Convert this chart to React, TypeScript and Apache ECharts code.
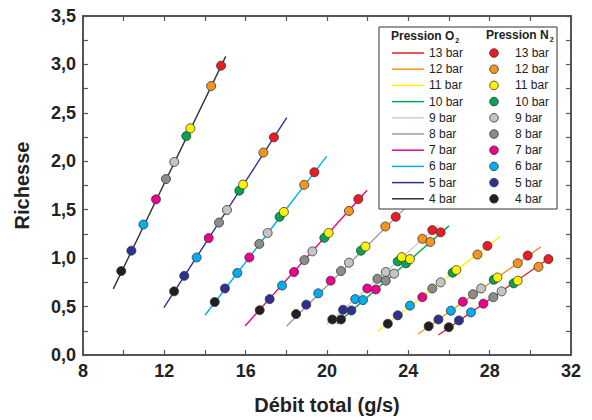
import React, { useEffect, useRef } from "react";
import * as echarts from "echarts";

const FONT = "'Liberation Sans', Arial, Helvetica, sans-serif";

// Pressures (bar), N2 / O2 order: 4..13
const pressures = [4, 5, 6, 7, 8, 9, 10, 11, 12, 13];
const pressureLabels = pressures.map((p) => `${p} bar`);
const lineColors = ["#333333", "#2e3192", "#00aeef", "#ec008c", "#9a9a9a", "#cfcfcf", "#00a651", "#fff200", "#f7941d", "#ed1c24"];
const dotColors = ["#231f20", "#2e3192", "#00aeef", "#ec008c", "#8c8c8c", "#c4c4c4", "#00a651", "#fff200", "#f7941d", "#ed1c24"];

// Débit total (x) for each O2 pressure, one value per N2 pressure (4..13 bar)
const xO2_4 = [9.88, 10.38, 10.97, 11.59, 12.08, 12.49, 13.08, 13.28, 14.3, 14.79];
const xO2_5 = [12.48, 12.98, 13.59, 14.18, 14.69, 15.08, 15.69, 15.87, 16.87, 17.39];
const xO2_6 = [14.48, 14.98, 15.59, 16.18, 16.67, 17.08, 17.67, 17.88, 18.88, 19.38];
const xO2_7 = [16.69, 17.18, 17.79, 18.38, 18.89, 19.28, 19.87, 20.08, 21.08, 21.54];
const xO2_8 = [18.48, 18.98, 19.57, 20.18, 20.69, 21.08, 21.67, 21.89, 22.87, 23.38];
const xO2_9 = [20.26, 20.79, 21.39, 21.98, 22.48, 22.89, 23.48, 23.68, 24.69, 25.18];
const xO2_10 = [20.69, 21.2, 21.77, 22.4, 22.89, 23.3, 23.89, 24.08, 25.08, 25.59];
const xO2_11 = [22.99, 23.48, 24.08, 24.69, 25.18, 25.59, 26.18, 26.36, 27.4, 27.89];
const xO2_12 = [25.0, 25.48, 26.09, 26.68, 27.18, 27.58, 28.2, 28.38, 29.38, 29.87];
const xO2_13 = [25.99, 26.49, 27.08, 27.69, 28.18, 28.59, 29.18, 29.38, 30.4, 30.89];

// Richesse (y)
const yO2_4 = [0.867, 1.077, 1.347, 1.607, 1.817, 1.993, 2.26, 2.34, 2.777, 2.987];
const yO2_5 = [0.657, 0.817, 1.007, 1.207, 1.367, 1.497, 1.697, 1.76, 2.09, 2.247];
const yO2_6 = [0.547, 0.687, 0.847, 1.007, 1.147, 1.26, 1.427, 1.477, 1.757, 1.887];
const yO2_7 = [0.463, 0.577, 0.717, 0.857, 0.98, 1.07, 1.21, 1.26, 1.487, 1.61];
const yO2_8 = [0.423, 0.52, 0.637, 0.767, 0.867, 0.953, 1.077, 1.12, 1.327, 1.427];
const yO2_9 = [0.367, 0.467, 0.577, 0.687, 0.787, 0.857, 0.967, 1.01, 1.2, 1.29];
const yO2_10 = [0.367, 0.46, 0.567, 0.677, 0.767, 0.84, 0.947, 0.99, 1.167, 1.267];
const yO2_11 = [0.323, 0.41, 0.51, 0.597, 0.687, 0.75, 0.85, 0.877, 1.037, 1.127];
const yO2_12 = [0.297, 0.367, 0.457, 0.55, 0.627, 0.687, 0.777, 0.8, 0.947, 1.027];
const yO2_13 = [0.287, 0.357, 0.44, 0.53, 0.597, 0.657, 0.74, 0.767, 0.91, 0.99];

// Fitted line end points [x0, y0, x1, y1] per O2 pressure
const fit_4 = [9.49, 0.683, 15.02, 3.083];
const fit_5 = [11.98, 0.49, 18.02, 2.45];
const fit_6 = [14.0, 0.41, 19.98, 2.05];
const fit_7 = [15.97, 0.3, 21.97, 1.7];
const fit_8 = [18.02, 0.3, 24.0, 1.55];
const fit_9 = [19.98, 0.317, 25.48, 1.34];
const fit_10 = [20.48, 0.323, 26.0, 1.333];
const fit_11 = [22.48, 0.243, 28.51, 1.223];
const fit_12 = [24.49, 0.217, 30.51, 1.117];
const fit_13 = [25.48, 0.207, 31.05, 1.017];

const xTicks = [8, 12, 16, 20, 24, 28, 32];

const xs = [xO2_4, xO2_5, xO2_6, xO2_7, xO2_8, xO2_9, xO2_10, xO2_11, xO2_12, xO2_13];
const ys = [yO2_4, yO2_5, yO2_6, yO2_7, yO2_8, yO2_9, yO2_10, yO2_11, yO2_12, yO2_13];
const fits = [fit_4, fit_5, fit_6, fit_7, fit_8, fit_9, fit_10, fit_11, fit_12, fit_13];

function buildLegend() {
  const bx = 379, by = 27, bw = 178, bh = 182;
  const rowY0 = 53, rowH = 16.2;
  const els: any[] = [
    { type: "rect", shape: { x: bx, y: by, width: bw, height: bh }, style: { fill: "#fff", stroke: "#333", lineWidth: 1 }, z: 100 },
    {
      type: "text", x: 391, y: 36, z: 101,
      style: {
        text: "{h|Pression O}{s|2}", verticalAlign: "middle",
        rich: {
          h: { fontFamily: FONT, fontSize: 12, fontWeight: "bold", fill: "#222" },
          s: { fontFamily: FONT, fontSize: 7, fontWeight: "bold", fill: "#222", padding: [9, 0, 0, 1] },
        },
      },
    },
    {
      type: "text", x: 486, y: 35, z: 101,
      style: {
        text: "{h|Pression N}{s|2}", verticalAlign: "middle",
        rich: {
          h: { fontFamily: FONT, fontSize: 12, fontWeight: "bold", fill: "#222" },
          s: { fontFamily: FONT, fontSize: 7, fontWeight: "bold", fill: "#222", padding: [9, 0, 0, 1] },
        },
      },
    },
  ];
  for (let k = 0; k < pressures.length; k++) {
    const i = pressures.length - 1 - k;
    const y = rowY0 + k * rowH;
    els.push({ type: "line", z: 101, shape: { x1: 392, y1: y, x2: 424, y2: y }, style: { stroke: lineColors[i], lineWidth: 1.5 } });
    els.push({ type: "text", z: 101, x: 429, y: y, style: { text: pressureLabels[i], fontFamily: FONT, fontSize: 12, fill: "#222", verticalAlign: "middle" } });
    els.push({ type: "circle", z: 101, shape: { cx: 494, cy: y, r: 4.3 }, style: { fill: dotColors[i], stroke: "#333", lineWidth: 0.8 } });
    els.push({ type: "text", z: 101, x: 515, y: y, style: { text: pressureLabels[i], fontFamily: FONT, fontSize: 12, fill: "#222", verticalAlign: "middle" } });
  }
  return els;
}

export default function App() {
  const ref = useRef<HTMLDivElement>(null);
  useEffect(() => {
    if (!ref.current) return;
    const chart = echarts.init(ref.current, undefined, { renderer: "svg" });
    const axisLine = { show: true, onZero: false, lineStyle: { color: "#555", width: 2 } };
    const tick = { show: true, inside: true, length: 5, lineStyle: { color: "#555", width: 1.2 } };
    const minorTick = { show: true, splitNumber: 2, length: 5, lineStyle: { color: "#555", width: 1.2 } };
    const labelStyle = { fontFamily: FONT, fontSize: 18, fontWeight: "bold", color: "#222" };

    const series: any[] = [];
    for (let o = 0; o < pressures.length; o++) {
      const f = fits[o];
      series.push({
        type: "line", name: `O2 ${pressureLabels[o]}`, data: [[f[0], f[1]], [f[2], f[3]]],
        showSymbol: false, symbol: "none", lineStyle: { color: lineColors[o], width: 1.4 }, z: 2, silent: true,
      });
    }
    for (let n = 0; n < pressures.length; n++) {
      series.push({
        type: "scatter", name: `N2 ${pressureLabels[n]}`,
        data: xs.map((arr, o) => [arr[n], ys[o][n]]),
        symbol: "circle", symbolSize: 9,
        itemStyle: { color: dotColors[n], borderColor: "#333", borderWidth: 0.8, opacity: 1 },
        z: 3,
      });
    }

    chart.setOption({
      animation: false,
      backgroundColor: "#fff",
      grid: { left: 83, right: 21, top: 16, bottom: 54 },
      xAxis: [
        {
          type: "value", min: 8, max: 32, interval: 4, position: "bottom",
          name: "Débit total (g/s)", nameLocation: "middle", nameGap: 40,
          nameTextStyle: { fontFamily: FONT, fontSize: 20, fontWeight: "bold", color: "#222" },
          axisLine, axisTick: tick, minorTick, splitLine: { show: false },
          axisLabel: { ...labelStyle, margin: 7, formatter: (v: number) => (xTicks.includes(v) ? String(v) : "") },
        },
        {
          type: "value", min: 8, max: 32, interval: 4, position: "top",
          axisLine, axisTick: tick, minorTick, splitLine: { show: false }, axisLabel: { show: false },
        },
      ],
      yAxis: [
        {
          type: "value", min: 0, max: 3.5, interval: 0.5, position: "left",
          name: "Richesse", nameLocation: "middle", nameGap: 51, nameRotate: 90,
          nameTextStyle: { fontFamily: FONT, fontSize: 20, fontWeight: "bold", color: "#222" },
          axisLine, axisTick: tick, minorTick, splitLine: { show: false },
          axisLabel: { ...labelStyle, margin: 7, formatter: (v: number) => v.toFixed(1).replace(".", ",") },
        },
        {
          type: "value", min: 0, max: 3.5, interval: 0.5, position: "right",
          axisLine, axisTick: tick, minorTick, splitLine: { show: false }, axisLabel: { show: false },
        },
      ],
      series,
      graphic: buildLegend(),
    });
    return () => chart.dispose();
  }, []);
  return <div ref={ref} style={{ width: 592, height: 420, position: "absolute", left: 0, top: 0 }} />;
}
